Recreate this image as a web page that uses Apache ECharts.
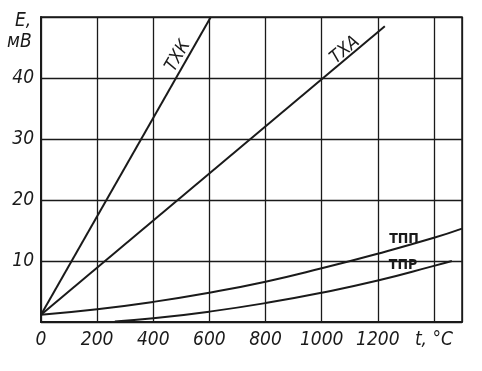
<!DOCTYPE html>
<html><head><meta charset="utf-8">
<script src="https://cdn.jsdelivr.net/npm/echarts@6/dist/echarts.min.js"></script>
<style>html,body{margin:0;padding:0;background:#fff}#c{width:482px;height:371px}</style>
</head><body><div id="c"></div>
<script>
// Temperatures (°C) and EMF (mV)
const tTXK = [0, 605];
const eTXK = [1.2, 50];
const tTXA = [0, 1225];
const eTXA = [1.2, 48.5];
const tTPP = [0, 200, 400, 600, 800, 1000, 1200, 1400, 1500];
const eTPP = [1.2, 2.1, 3.3, 4.8, 6.6, 8.8, 11.2, 13.8, 15.3];
const tTPR = [263, 400, 600, 800, 1000, 1200, 1400, 1464];
const eTPR = [0.1, 0.6, 1.7, 3.1, 4.8, 6.8, 9.2, 10.0];
const xTickLabels = {0:'0',200:'200',400:'400',600:'600',800:'800',1000:'1000',1200:'1200',1400:'t, °C'};
const yTickLabels = {10:'10',20:'20',30:'30',40:'40'};

const FONT = '"DejaVu Sans Condensed","Liberation Sans Narrow","DejaVu Sans",sans-serif';
const ink = '#1a1a1a';
const zip = (a, b) => a.map((v, i) => [v, b[i]]);
const lineSeries = (name, t, e, smooth) => ({
  name, type: 'line', data: zip(t, e), smooth, symbol: 'none',
  lineStyle: { color: ink, width: 2 }, clip: true, z: 5
});

const chart = echarts.init(document.getElementById('c'), null, { renderer: 'canvas' });
chart.setOption({
  backgroundColor: '#ffffff',
  animation: false,
  grid: { left: 41, right: 20, top: 17, bottom: 49, show: true, borderColor: ink, borderWidth: 1.5 },
  xAxis: {
    type: 'value', min: 0, max: 1500, interval: 200,
    axisLine: { show: true, lineStyle: { color: ink, width: 2 } },
    axisTick: { show: false },
    splitLine: { show: true, lineStyle: { color: ink, width: 1.3 } },
    axisLabel: {
      margin: 9, color: ink, fontSize: 19, fontStyle: 'italic', fontFamily: FONT,
      formatter: v => xTickLabels[v] !== undefined ? xTickLabels[v] : ''
    }
  },
  yAxis: {
    type: 'value', min: 0, max: 50, interval: 10,
    axisLine: { show: true, lineStyle: { color: ink, width: 2 } },
    axisTick: { show: false },
    splitLine: { show: true, lineStyle: { color: ink, width: 1.3 } },
    axisLabel: {
      margin: 7, color: ink, fontSize: 19, fontStyle: 'italic', fontFamily: FONT,
      formatter: v => yTickLabels[v] !== undefined ? yTickLabels[v] : ''
    }
  },
  series: [
    lineSeries('ТХК', tTXK, eTXK, false),
    lineSeries('ТХА', tTXA, eTXA, false),
    lineSeries('ТПП', tTPP, eTPP, 0.5),
    lineSeries('ТПР', tTPR, eTPR, 0.5)
  ],
  graphic: [
    { type: 'text', left: 15, top: 12, style: { text: 'E,', font: 'italic 19px ' + FONT, fill: ink } },
    { type: 'text', left: 7, top: 33, style: { text: 'мВ', font: 'italic 19px ' + FONT, fill: ink } },
    { type: 'text', x: 178, y: 56, rotation: 60 * Math.PI / 180,
      style: { text: 'ТХК', font: 'italic 18px ' + FONT, fill: ink, align: 'center', verticalAlign: 'middle' } },
    { type: 'text', x: 345, y: 50, rotation: 40 * Math.PI / 180,
      style: { text: 'ТХА', font: 'italic 18px ' + FONT, fill: ink, align: 'center', verticalAlign: 'middle' } },
    { type: 'text', x: 404, y: 239,
      style: { text: 'ТПП', font: 'bold 14px ' + FONT, fill: ink, align: 'center', verticalAlign: 'middle' } },
    { type: 'text', x: 403, y: 265,
      style: { text: 'ТПР', font: 'bold 14px ' + FONT, fill: ink, align: 'center', verticalAlign: 'middle' } }
  ]
});
</script></body></html>
